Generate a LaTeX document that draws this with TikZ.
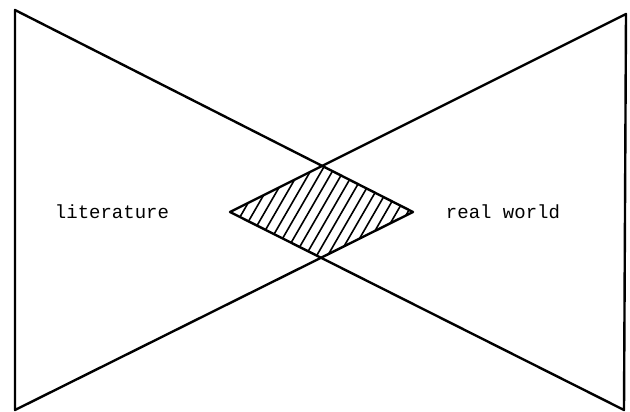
\documentclass[tikz,border=0pt]{standalone}
\usepackage{fontspec}
\setmonofont{Liberation Mono}
\begin{document}
\begin{tikzpicture}[x=1pt, y=-1pt,
        edge/.style={line width=2.4pt, line join=round},
        hatch/.style={line width=1.6pt},
        txt/.style={font=\fontsize{19}{19}\selectfont\ttfamily, inner sep=0pt}
    ]
        \useasboundingbox (0,0) rectangle (630,412);

        \coordinate (tl) at (15,10);
        \coordinate (bl) at (15,410);
        \coordinate (tr) at (626,14);
        \coordinate (br) at (624,410);
        \coordinate (litapex) at (413,212);
        \coordinate (rwapex) at (230,212);

        % overlap of the two wedges
        \begin{scope}
            \clip (tl) -- (litapex) -- (bl) -- cycle;
            \clip (tr) -- (rwapex) -- (br) -- cycle;
            \foreach \x in {170,181,...,380}
                \draw[hatch] (\x,300) -- ++(100,-173);
        \end{scope}

        \draw[edge] (tl) -- (litapex) -- (bl) -- cycle;
        \draw[edge] (tr) -- (rwapex) -- (br) -- cycle;

        \node[txt] (lit) at (112,212) {literature};
        \node[txt] (rw) at (503,212) {real world};
    \end{tikzpicture}
\end{document}
